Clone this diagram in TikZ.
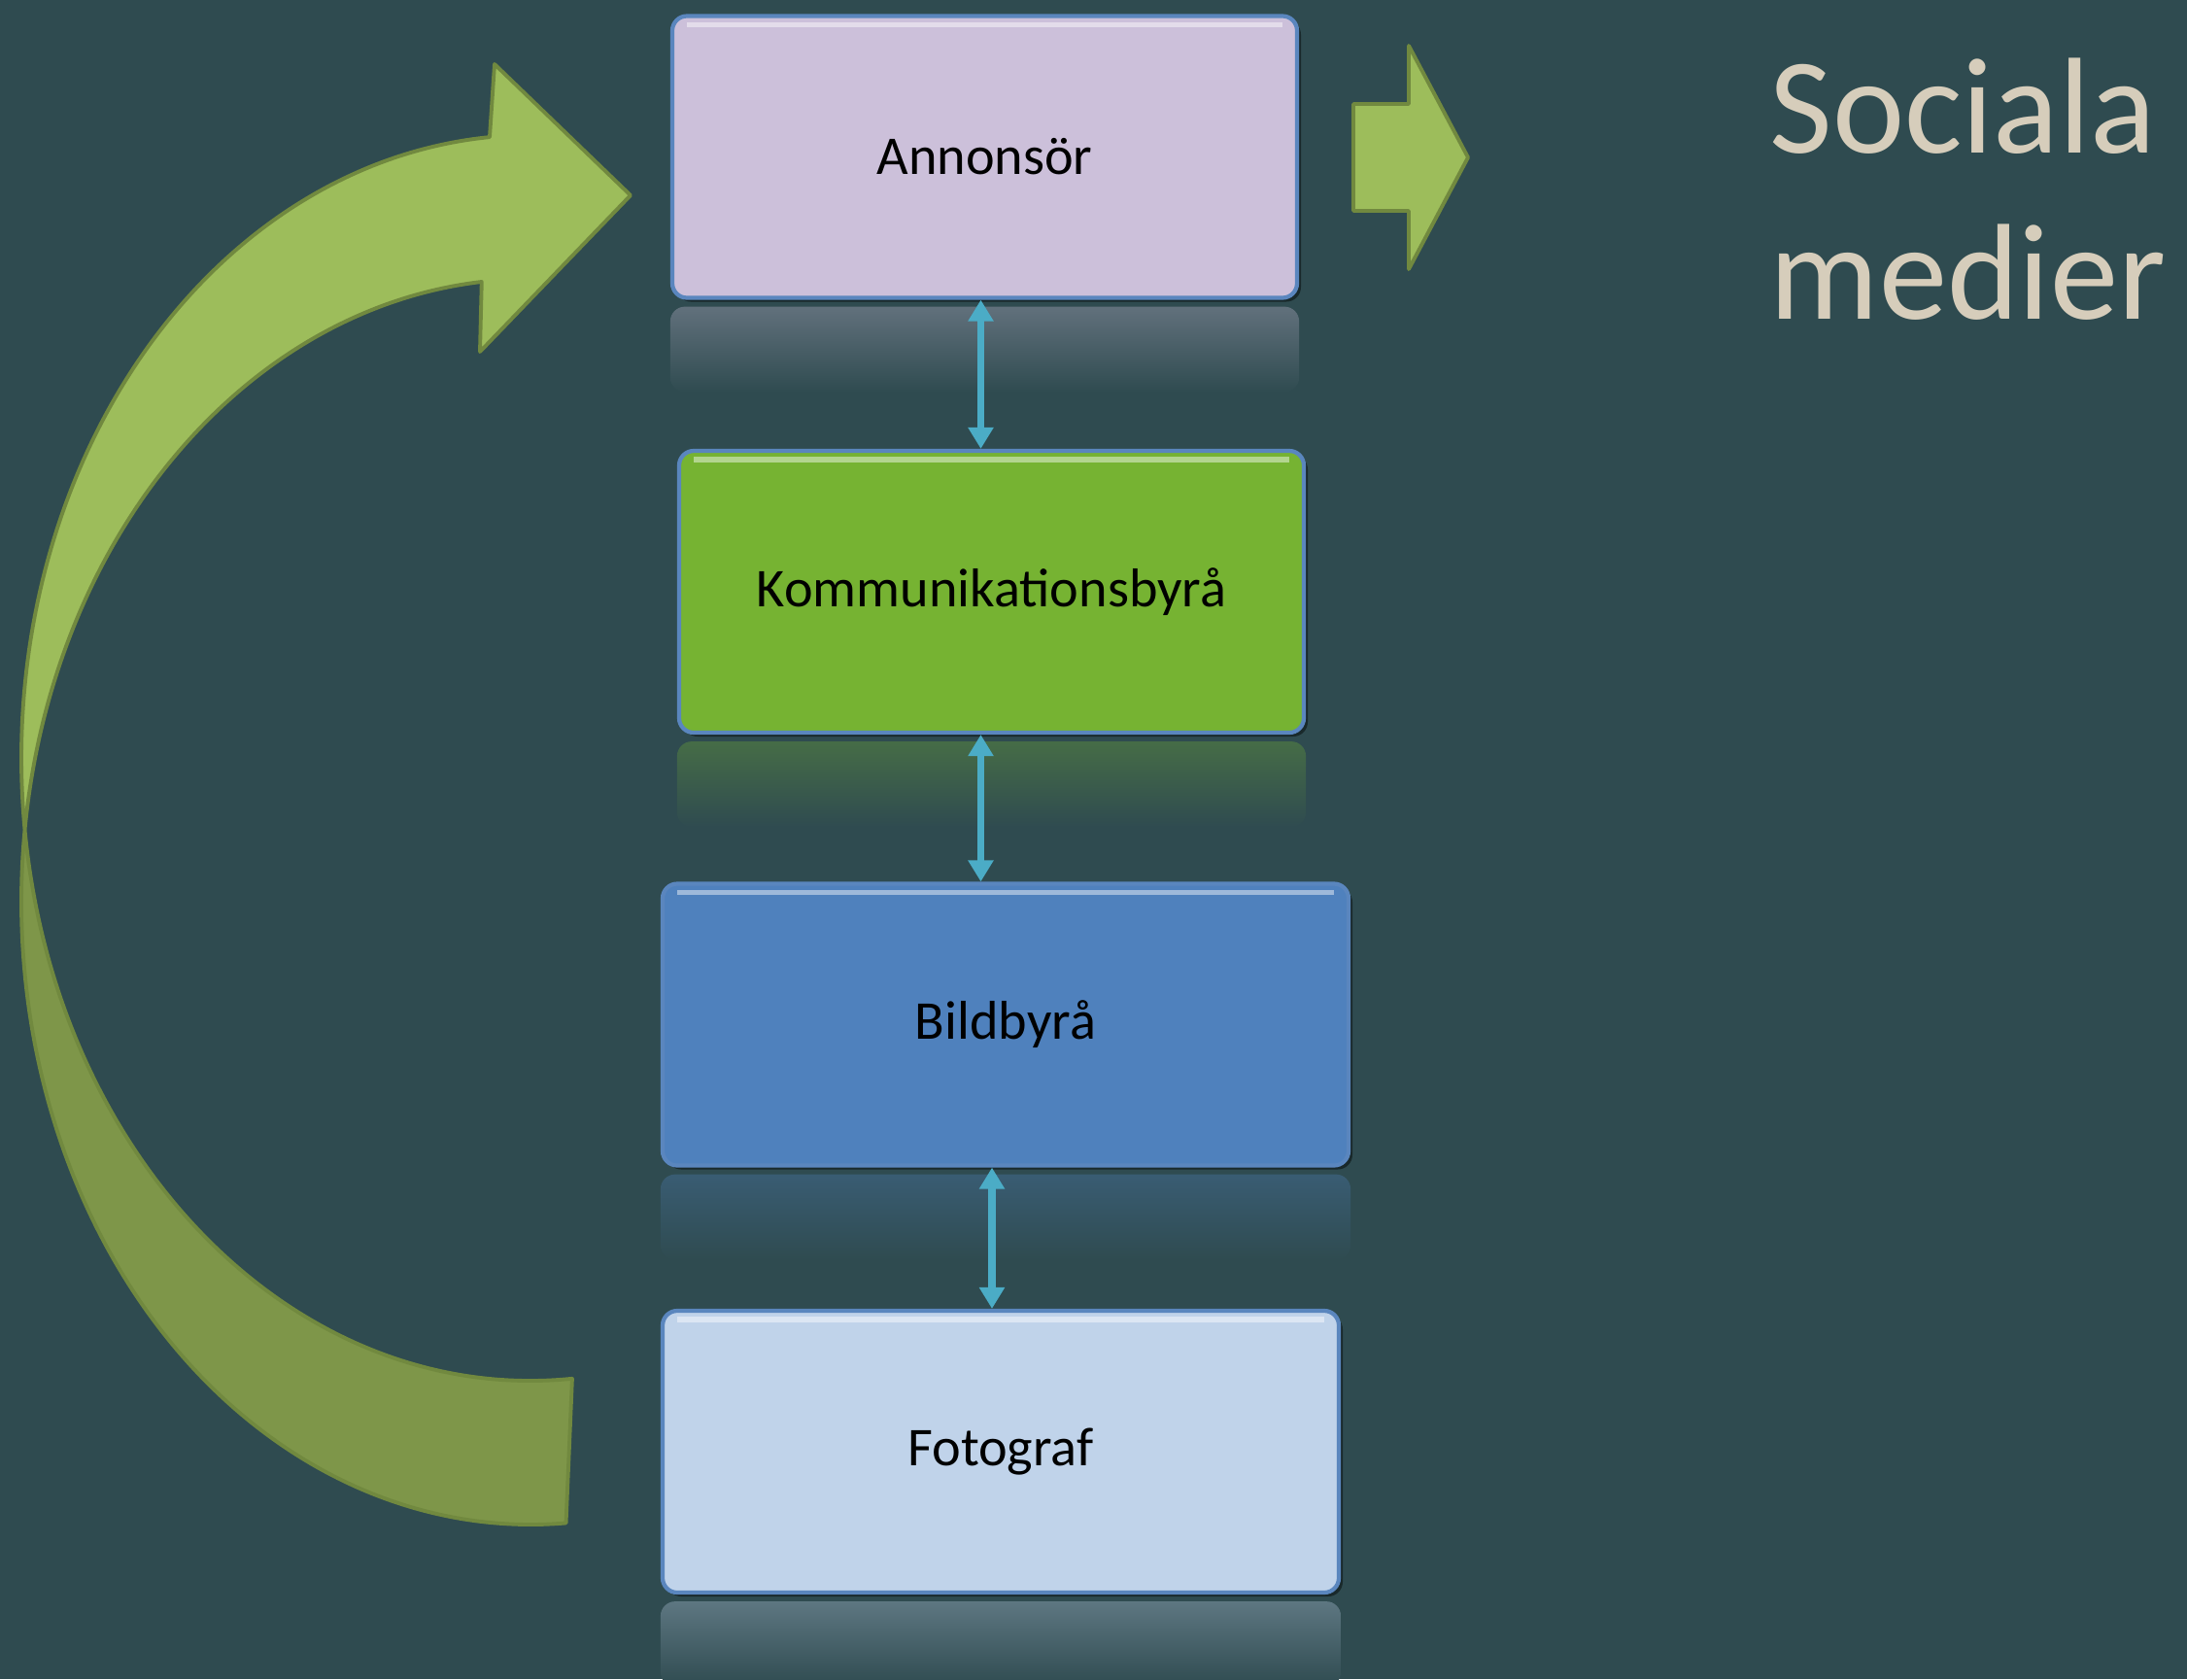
\documentclass[tikz,border=0pt]{standalone}
\usepackage{fontspec}
\setmainfont{Carlito}
\usetikzlibrary{arrows.meta,calc,shadows}
\definecolor{bg}{HTML}{2F4B50}
\definecolor{annfill}{HTML}{CCC0DA}
\definecolor{kommfill}{HTML}{76B332}
\definecolor{bildfill}{HTML}{4F81BD}
\definecolor{fotofill}{HTML}{C0D3EA}
\definecolor{boxline}{HTML}{5A86BE}
\definecolor{linkblue}{HTML}{4BACC6}
\definecolor{arrowgreen}{HTML}{9DBD5B}
\definecolor{arrowdark}{HTML}{7E9649}
\definecolor{arrowline}{HTML}{71893F}
\definecolor{titlecol}{HTML}{D6CDBB}
\begin{document}
\begin{tikzpicture}[
		box/.style={draw=boxline, line width=1.2pt, rounded corners=0.15cm, minimum height=2.9cm,
			font=\fontsize{16}{19}\selectfont,
			drop shadow={shadow xshift=0.04cm, shadow yshift=-0.04cm, opacity=0.45, fill=black},
			path picture={\draw[white, opacity=0.45, line width=1.5pt]
				([xshift=0.15cm,yshift=-0.09cm]path picture bounding box.north west) --
				([xshift=-0.15cm,yshift=-0.09cm]path picture bounding box.north east);}},
		link/.style={draw=linkblue, line width=2pt,
			{Triangle[length=0.22cm,width=0.25cm]}-{Triangle[length=0.22cm,width=0.25cm]}},
		bigarrow/.style={draw=arrowline, line width=1.1pt, line join=round}]
		\useasboundingbox (0,0) rectangle (22.51,-17.28);
		\fill[bg] (0,0) rectangle (22.51,-17.28);
		% curved arrow back to the top
		\filldraw[bigarrow, fill=arrowdark] ($(5.46,-9.28)+(173.37:5.24cm and 6.41cm)$)
			arc[start angle=173.37, end angle=274, x radius=5.24, y radius=6.41]
			-- ($(5.46,-7.80)+(274.7:5.24cm and 6.41cm)$)
			arc[start angle=274.7, end angle=186.63, x radius=5.24, y radius=6.41] -- cycle;
		\filldraw[bigarrow, fill=arrowgreen] ($(5.46,-7.80)+(186.63:5.24cm and 6.41cm)$)
			arc[start angle=186.63, end angle=94.6, x radius=5.24, y radius=6.41]
			-- (5.09,-0.66) -- (6.49,-2.01) -- (4.94,-3.62)
			-- ($(5.46,-9.28)+(95.5:5.24cm and 6.41cm)$)
			arc[start angle=95.5, end angle=173.37, x radius=5.24, y radius=6.41] -- cycle;
		% the chain
		\node[box, fill=annfill, minimum width=6.43cm] (ann) at (10.135,-1.615) {Annonsör};
		\node[box, fill=kommfill, minimum width=6.43cm] (komm) at (10.205,-6.09) {Kommunikationsbyrå};
		\node[box, fill=bildfill, minimum width=7.06cm] (bild) at (10.35,-10.545) {Bildbyrå};
		\node[box, fill=fotofill, minimum width=6.96cm] (foto) at (10.30,-14.94) {Fotograf};
		\foreach \n/\c in {ann/annfill, komm/kommfill, bild/bildfill, foto/fotofill}
			\shade[rounded corners=0.15cm, top color=\c!32!bg, bottom color=bg]
				([yshift=-0.07cm]\n.south west) rectangle ([yshift=-0.95cm]\n.south east);
		\draw[link] ([xshift=-0.04cm]ann.south) -- ([xshift=-0.04cm]ann.south |- komm.north);
		\draw[link] ([xshift=-0.11cm]komm.south) -- ([xshift=-0.11cm]komm.south |- bild.north);
		\draw[link] ([xshift=-0.09cm]foto.north |- bild.south) -- ([xshift=-0.09cm]foto.north);
		% out to social media
		\filldraw[bigarrow, fill=arrowgreen] (13.93,-1.07) -- (14.50,-1.07) -- (14.50,-0.47) -- (15.11,-1.62)
			-- (14.50,-2.77) -- (14.50,-2.17) -- (13.93,-2.17) -- cycle;
		\node[anchor=base west, align=left, inner sep=0pt, text=titlecol,
			font=\fontsize{40}{48.5}\selectfont] (soc) at (18.21,-3.28) {Sociala\\medier};
	\end{tikzpicture}
\end{document}
